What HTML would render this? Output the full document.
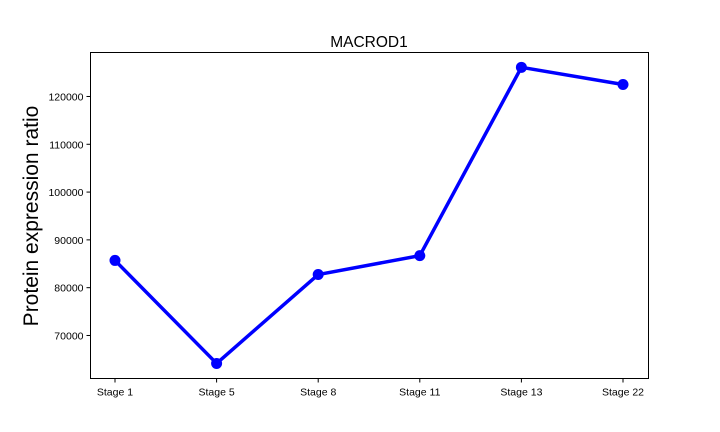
<!DOCTYPE html>
<html><head><meta charset="utf-8"><style>
body{margin:0;background:#fff;font-family:"Liberation Sans","DejaVu Sans",sans-serif}
svg{display:block}
</style></head><body>
<svg id="chart" width="720" height="432">
<rect x="0" y="0" width="720" height="432" fill="#fff"/>
<text x="369" y="47" text-anchor="middle" font-size="15.5">MACROD1</text>
<text transform="translate(38,216) rotate(-90)" text-anchor="middle" font-size="21">Protein expression ratio</text>
<rect x="90.5" y="52.5" width="558" height="326" fill="none" stroke="#000" stroke-width="1"/>
</svg>
<script>
const categories=["Stage 1","Stage 5","Stage 8","Stage 11","Stage 13","Stage 22"];
const values=[85700,64150,82750,86700,126100,122500];
const yTicks=[70000,80000,90000,100000,110000,120000];
const L=90.5,R=648.5,T=52.5,B=378.5;
const yMin=61000,yMax=129200;
const x=i=>115+i*(623-115)/(categories.length-1);
const y=v=>B-(v-yMin)/(yMax-yMin)*(B-T);
const svg=document.getElementById('chart');
const NS='http://www.w3.org/2000/svg';
function mk(tag,attrs){const e=document.createElementNS(NS,tag);for(const k in attrs)e.setAttribute(k,attrs[k]);svg.appendChild(e);return e;}
yTicks.forEach(t=>{
  const yy=y(t);
  const tk=mk('line',{x1:L-4,x2:L,y1:yy,y2:yy,stroke:'#000'});
  
  
  const lb=mk('text',{x:L-7,y:yy+4,'text-anchor':'end','font-size':'10.5'});
  lb.textContent=t;
  
  
});
categories.forEach((c,i)=>{
  const xx=x(i);
  const tk=mk('line',{x1:xx,x2:xx,y1:B,y2:B+4,stroke:'#000'});
  
  
  const lb=mk('text',{x:xx,y:B+17,'text-anchor':'middle','font-size':'10.5'});
  lb.textContent=c;
  
  
});
const pts=values.map((v,i)=>x(i)+','+y(v)).join(' ');
const line=mk('polyline',{points:pts,fill:'none',stroke:'#0000ff','stroke-width':'3.5','stroke-linejoin':'round'});


values.forEach((v,i)=>{
  const c=mk('circle',{cx:x(i),cy:y(v),r:5.5,fill:'#0000ff'});
  
  
});
</script>
</body></html>
